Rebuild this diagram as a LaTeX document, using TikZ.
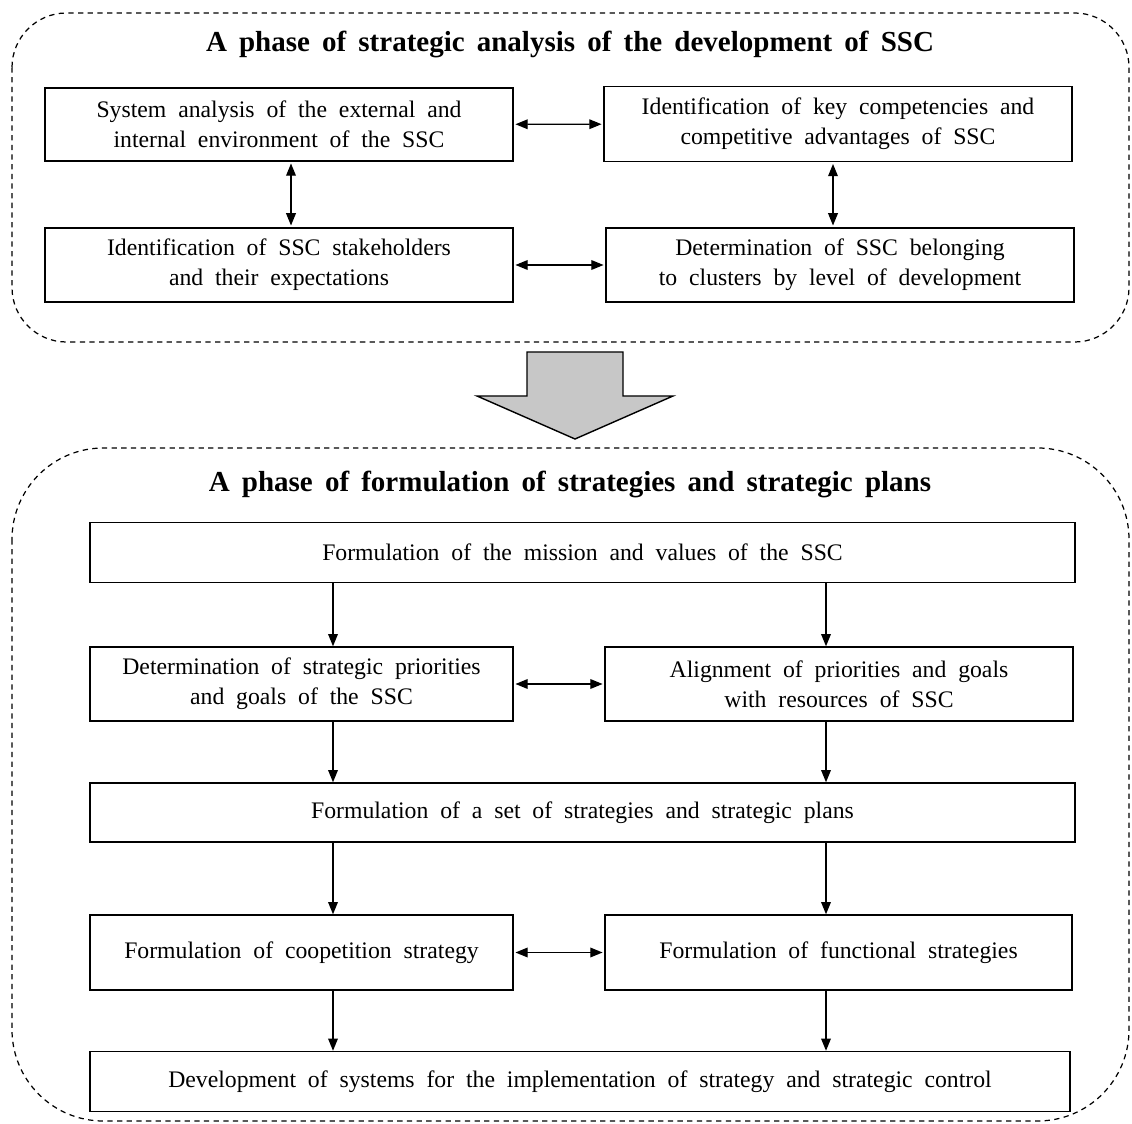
\documentclass[tikz,border=0pt]{standalone}
\usepackage{fontspec}
\setmainfont{Liberation Serif}
\usetikzlibrary{arrows.meta,positioning}
\newcommand\boxfont{\fontsize{13.5}{17}\selectfont\spaceskip 0.5em\relax}
\newcommand\headfont{\fontsize{16.5}{19}\selectfont\bfseries\spaceskip 0.42em\relax}
\tikzset{
  box/.style={draw, line width=0.8pt, align=center, inner sep=2pt, font=\boxfont},
  phase/.style={draw, dash pattern=on 3pt off 2.5pt, line width=0.7pt},
  heading/.style={font=\headfont},
  arr/.style={-{Triangle[length=7pt,width=5.5pt]}, line width=0.8pt},
  dbl/.style={{Triangle[length=7pt,width=5.5pt]}-{Triangle[length=7pt,width=5.5pt]}, line width=0.8pt, shorten <=1pt, shorten >=1pt},
}
\begin{document}
\begin{tikzpicture}[x=0.02cm, y=-0.02cm]
  \useasboundingbox (0,0) rectangle (1132,1124); % page frame
  % phase frames
  \draw [phase, rounded corners=31pt] (12,13) rectangle (1129,342);
  \draw [phase, rounded corners=52pt] (12,448) rectangle (1129,1121);
  \node [heading] (head1) at (570,45) {A phase of strategic analysis of the development of SSC};
  \node [heading] (head2) at (570,484) {A phase of formulation of strategies and strategic plans};
  % strategic analysis
  \node [box, minimum width=9.36cm, minimum height=1.46cm] (sysan) at (279,124.5) {System analysis of the external and\\internal environment of the SSC};
  \node [box, minimum width=9.36cm, minimum height=1.5cm] (keycomp) at (838,124) {Identification of key competencies and\\competitive advantages of SSC};
  \node [box, minimum width=9.36cm, minimum height=1.48cm] (stake) at (279,265) {Identification of SSC stakeholders\\and their expectations};
  \node [box, minimum width=9.36cm, minimum height=1.48cm] (cluster) at (840,265) {Determination of SSC belonging\\to clusters by level of development};
  \coordinate (tcolL) at (291,0);
  \coordinate (tcolR) at (833,0);
  \draw [dbl] (sysan) -- (keycomp);
  \draw [dbl] (stake) -- (cluster);
  \draw [dbl] (sysan.south -| tcolL) -- (stake.north -| tcolL);
  \draw [dbl] (keycomp.south -| tcolR) -- (cluster.north -| tcolR);
  % big arrow between phases
  \draw [line width=0.8pt, fill=black!22] (527,352) -- (623,352) -- (623,396) -- (673,396) -- (575,439) -- (477,396) -- (527,396) -- cycle;
  % formulation
  \node [box, minimum width=19.7cm, minimum height=1.2cm] (mission) at (582.5,552.5) {Formulation of the mission and values of the SSC};
  \node [box, minimum width=8.46cm, minimum height=1.48cm] (prior) at (301.5,684) {Determination of strategic priorities\\and goals of the SSC};
  \node [box, minimum width=9.36cm, minimum height=1.48cm] (align) at (839,684) {Alignment of priorities and goals\\with resources of SSC};
  \node [box, minimum width=19.7cm, minimum height=1.18cm] (stratset) at (582.5,812.5) {Formulation of a set of strategies and strategic plans};
  \node [box, minimum width=8.46cm, minimum height=1.5cm] (coop) at (301.5,952.5) {Formulation of coopetition strategy};
  \node [box, minimum width=9.34cm, minimum height=1.5cm] (func) at (838.5,952.5) {Formulation of functional strategies};
  \node [box, minimum width=19.6cm, minimum height=1.2cm] (impl) at (580,1081.5) {Development of systems for the implementation of strategy and strategic control};
  \coordinate (colL) at (333,0);
  \coordinate (colR) at (826,0);
  \draw [arr] (mission.south -| colL) -- (prior.north -| colL);
  \draw [arr] (mission.south -| colR) -- (align.north -| colR);
  \draw [dbl] (prior) -- (align);
  \draw [arr] (prior.south -| colL) -- (stratset.north -| colL);
  \draw [arr] (align.south -| colR) -- (stratset.north -| colR);
  \draw [arr] (stratset.south -| colL) -- (coop.north -| colL);
  \draw [arr] (stratset.south -| colR) -- (func.north -| colR);
  \draw [dbl] (coop) -- (func);
  \draw [arr] (coop.south -| colL) -- (impl.north -| colL);
  \draw [arr] (func.south -| colR) -- (impl.north -| colR);
\end{tikzpicture}
\end{document}
